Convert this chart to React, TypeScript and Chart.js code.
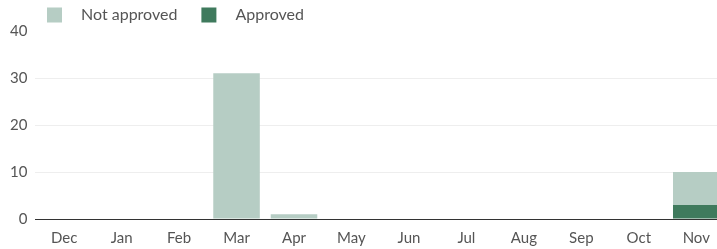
import React, { useEffect, useRef } from "react";
import { Chart, registerables } from "chart.js";

Chart.register(...registerables);

const months = ["Dec", "Jan", "Feb", "Mar", "Apr", "May", "Jun", "Jul", "Aug", "Sep", "Oct", "Nov"];
const notApproved = [0, 0, 0, 31, 1, 0, 0, 0, 0, 0, 0, 7];
const approved = [0, 0, 0, 0, 0, 0, 0, 0, 0, 0, 0, 3];
const seriesLabels = ["Not approved", "Approved"];
const seriesColors = ["#b6cdc4", "#3f7a5d"];
const yTicks = [0, 10, 20, 30, 40];

const FONT = "Lato";

const legendPlugin = {
  id: "customLegend",
  afterDraw(chart: any) {
    const ctx = chart.ctx;
    ctx.save();
    ctx.font = `16px ${FONT}`;
    ctx.textBaseline = "middle";
    ctx.textAlign = "left";
    let x = 47;
    const y = 15;
    chart.data.datasets.forEach((ds: any) => {
      ctx.fillStyle = ds.backgroundColor;
      ctx.fillRect(x, y - 7.5, 15, 15);
      ctx.fillStyle = "#555";
      ctx.fillText(ds.label, x + 34, y);
      x += 34 + ctx.measureText(ds.label).width + 24;
    });
    ctx.restore();
  },
};

export default function App() {
  const ref = useRef<HTMLCanvasElement | null>(null);
  useEffect(() => {
    if (!ref.current) return;
    const chart = new Chart(ref.current, {
      type: "bar",
      data: {
        labels: months,
        datasets: [
          { label: seriesLabels[0], data: notApproved, backgroundColor: seriesColors[0], order: 1 },
          { label: seriesLabels[1], data: approved, backgroundColor: seriesColors[1], order: 0 },
        ],
      },
      options: {
        animation: false,
        responsive: true,
        maintainAspectRatio: false,
        layout: { padding: { top: 31, bottom: 0, left: 2, right: 0 } },
        datasets: { bar: { categoryPercentage: 1, barPercentage: 0.81 } },
        plugins: { legend: { display: false }, tooltip: { enabled: false } },
        scales: {
          x: {
            stacked: true,
            grid: { display: false, drawTicks: false },
            border: { display: true, color: "#333", width: 1 },
            ticks: { color: "#555", font: { family: FONT, size: 15 }, padding: 10 },
          },
          y: {
            stacked: true,
            min: 0,
            max: 40,
            afterBuildTicks: (axis: any) => {
              axis.ticks = yTicks.map((v) => ({ value: v }));
            },
            grid: {
              drawTicks: false,
              color: (c: any) =>
                c.tick && c.tick.value === 0 ? "#333" : c.tick && c.tick.value === 40 ? "rgba(0,0,0,0)" : "#eeeeee",
            },
            border: { display: false },
            ticks: { color: "#555", font: { family: FONT, size: 15 }, padding: 8 },
          },
        },
      },
      plugins: [legendPlugin],
    } as any);
    return () => chart.destroy();
  }, []);
  return (
    <div style={{ position: "fixed", left: 0, top: 0, width: 717, height: 249, overflow: "hidden", background: "#fff" }}>
      <div style={{ position: "relative", width: 725, height: 257 }}>
        <canvas ref={ref} />
      </div>
    </div>
  );
}
